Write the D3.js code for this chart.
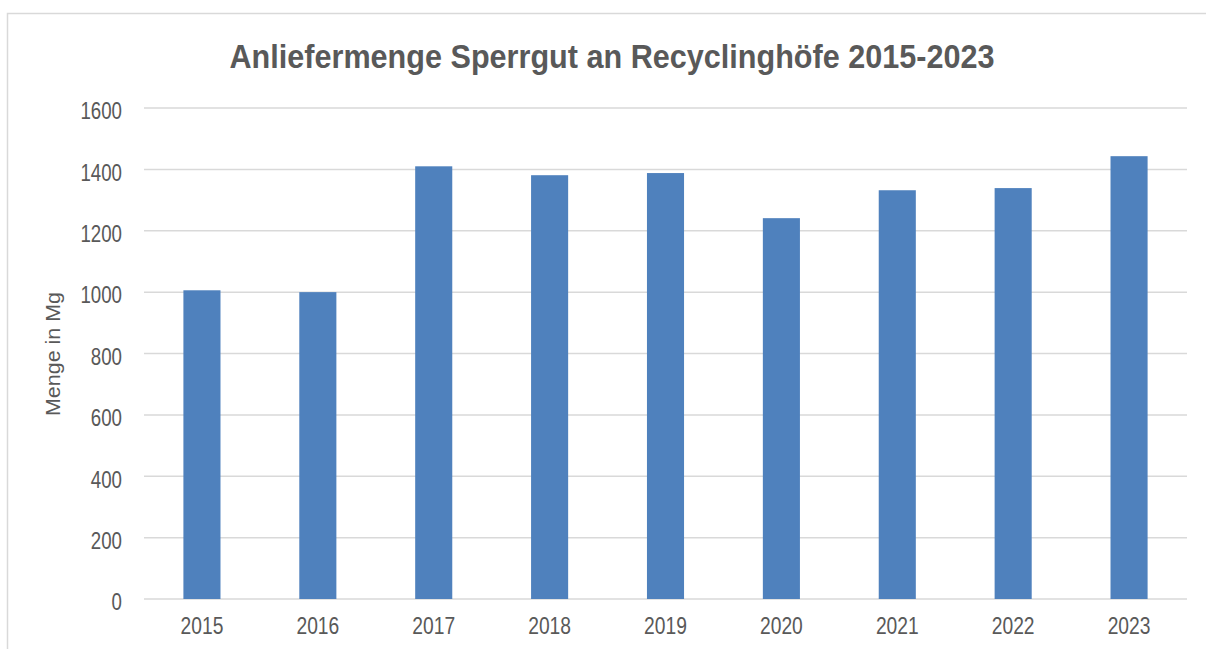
<!DOCTYPE html>
<html>
<head>
<meta charset="utf-8">
<script src="https://cdn.jsdelivr.net/npm/d3@7"></script>
<style>
  body { margin: 0; background: #fff; }
  svg { display: block; font-family: "Liberation Sans Narrow", "Liberation Sans", Arial, sans-serif; }
</style>
</head>
<body>
<svg id="drawing_region"></svg>
<script>
const years = ["2015", "2016", "2017", "2018", "2019", "2020", "2021", "2022", "2023"];
const amounts = [1006, 1000, 1410, 1381, 1388, 1241, 1332, 1339, 1443];
const yTicks = [0, 200, 400, 600, 800, 1000, 1200, 1400, 1600];

const config = {
  width: 1206,
  height: 649,
  margin: { top: 108, right: 19, bottom: 50, left: 144 },
};

const svg = d3.select("#drawing_region")
  .attr("width", config.width)
  .attr("height", config.height);

// chart frame
svg.append("rect")
  .attr("x", 7.5)
  .attr("y", 13.5)
  .attr("width", 1220)
  .attr("height", 700)
  .attr("fill", "none")
  .attr("stroke", "#d9d9d9")
  .attr("stroke-width", 1.5);

const innerW = config.width - config.margin.left - config.margin.right;
const plotH = config.height - config.margin.top - config.margin.bottom;

const chart = svg.append("g")
  .attr("transform", `translate(${config.margin.left}, ${config.margin.top})`);

const xscale = d3.scaleBand().domain(years).range([0, innerW]).paddingInner(0.68).paddingOuter(0.34);
const yscale = d3.scaleLinear().domain([0, 1600]).range([plotH, 0]);

// gridlines
chart.append("g")
  .selectAll("line")
  .data(yTicks)
  .join("line")
  .attr("x1", 0)
  .attr("x2", innerW)
  .attr("y1", d => yscale(d))
  .attr("y2", d => yscale(d))
  .attr("stroke", "#d9d9d9")
  .attr("stroke-width", 1.5);

// bars
chart.selectAll("rect.bar")
  .data(years)
  .join("rect")
  .attr("class", "bar")
  .attr("x", d => xscale(d))
  .attr("width", xscale.bandwidth())
  .attr("y", (d, i) => yscale(amounts[i]))
  .attr("height", (d, i) => yscale(0) - yscale(amounts[i]))
  .attr("fill", "#4f81bd");

// narrow look: squeeze each label to a fixed width per character
const squeeze = (sel, perChar) => sel
  .attr("textLength", function () { return this.textContent.length * perChar; })
  .attr("lengthAdjust", "spacingAndGlyphs");

// y axis
const yaxis = chart.append("g")
  .call(d3.axisLeft(yscale).tickValues(yTicks).tickFormat(d3.format("d")).tickSize(0).tickPadding(22));
yaxis.select(".domain").remove();
yaxis.selectAll("text")
  .attr("font-size", "24px")
  .attr("fill", "#595959")
  .attr("dy", "0.45em")
  .call(squeeze, 10.4);

// x axis
const xaxis = chart.append("g")
  .attr("transform", `translate(0, ${plotH})`)
  .call(d3.axisBottom(xscale).tickSize(0).tickPadding(18));
xaxis.select(".domain").remove();
xaxis.selectAll("text")
  .attr("font-size", "24px")
  .attr("fill", "#595959")
  .call(squeeze, 10.7);

// y label
svg.append("text")
  .attr("transform", "translate(60, 354) rotate(-90)")
  .attr("text-anchor", "middle")
  .attr("font-size", "21px")
  .attr("fill", "#595959")
  .attr("textLength", 124)
  .attr("lengthAdjust", "spacingAndGlyphs")
  .text("Menge in Mg");

// title
svg.append("text")
  .attr("x", 612)
  .attr("y", 68)
  .attr("text-anchor", "middle")
  .attr("font-size", "34px")
  .attr("font-weight", "bold")
  .attr("fill", "#595959")
  .attr("textLength", 765)
  .attr("lengthAdjust", "spacingAndGlyphs")
  .text("Anliefermenge Sperrgut an Recyclinghöfe 2015-2023");
</script>
</body>
</html>
